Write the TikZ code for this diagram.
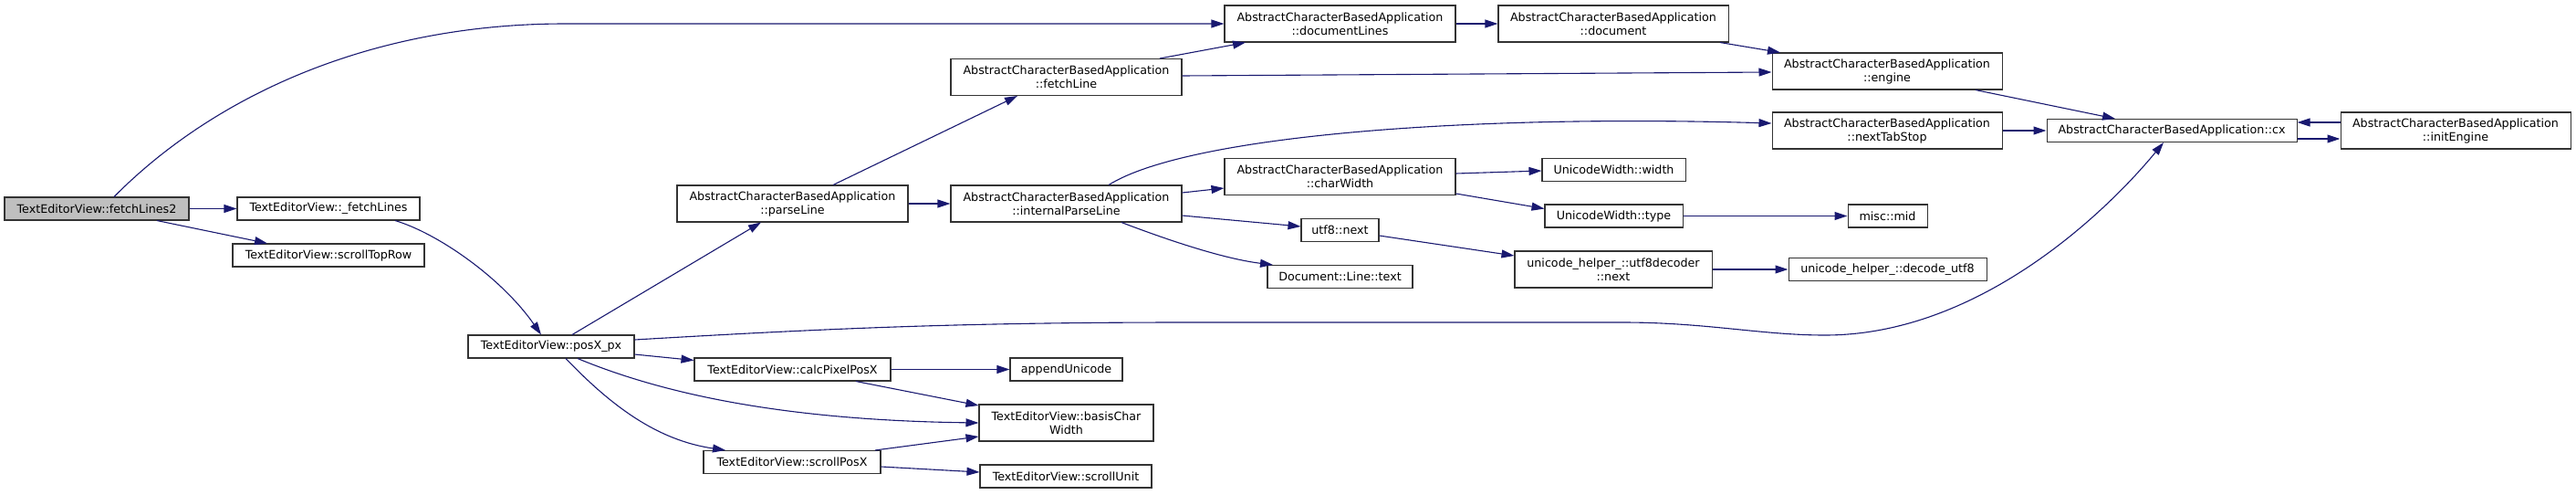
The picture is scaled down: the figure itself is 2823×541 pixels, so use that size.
\documentclass[tikz,border=0pt]{standalone}
\usepackage{fontspec}
\setmainfont{DejaVu Sans}
\usetikzlibrary{arrows.meta}
\definecolor{edgeblue}{HTML}{191970}
\definecolor{mainfill}{HTML}{BFBFBF}
\begin{document}
\begin{tikzpicture}[x=1pt,y=-1pt,
  box/.style={draw=black!80, line width=1.05pt, fill=white, inner sep=0pt,
    minimum height=25pt, font=\fontsize{12.7}{15}\selectfont, align=center},
  tall/.style={box, minimum height=40pt},
  edge/.style={draw=edgeblue, line width=1.1pt, -{Triangle[length=14pt,width=9pt]}}]
\useasboundingbox (0,0) rectangle (2823,541);
% column 1-3
\node[box, fill=mainfill, minimum width=202pt] (fl2) at (106,228.5) {TextEditorView::fetchLines2};
\node[box, minimum width=200pt] (ufl) at (360,228.5) {TextEditorView::\_fetchLines};
\node[box, minimum width=210pt] (str) at (360,279.5) {TextEditorView::scrollTopRow};
\node[box, minimum width=182pt] (px) at (604,379.5) {TextEditorView::posX\_px};
% column 4
\node[tall, minimum width=253pt] (pl) at (868.5,223) {AbstractCharacterBasedApplication\\::parseLine};
\node[box, minimum width=215pt] (cpp) at (868.5,404.5) {TextEditorView::calcPixelPosX};
\node[box, minimum width=194pt] (spx) at (868,506) {TextEditorView::scrollPosX};
% column 5
\node[tall, minimum width=253pt] (fl) at (1168.5,84.5) {AbstractCharacterBasedApplication\\::fetchLine};
\node[tall, minimum width=253pt] (ipl) at (1168.5,223) {AbstractCharacterBasedApplication\\::internalParseLine};
\node[box, minimum width=123pt] (au) at (1168.5,404.5) {appendUnicode};
\node[tall, minimum width=191pt] (bcw) at (1168.5,463) {TextEditorView::basisChar\\Width};
\node[box, minimum width=188pt] (su) at (1168,521.5) {TextEditorView::scrollUnit};
% column 6
\node[tall, minimum width=253pt] (dl) at (1468.5,26) {AbstractCharacterBasedApplication\\::documentLines};
\node[tall, minimum width=253pt] (cw) at (1468.5,193.5) {AbstractCharacterBasedApplication\\::charWidth};
\node[box, minimum width=85pt] (un) at (1468.5,252) {utf8::next};
\node[box, minimum width=159pt] (dlt) at (1468.5,303) {Document::Line::text};
% column 7
\node[tall, minimum width=252pt] (doc) at (1768,26) {AbstractCharacterBasedApplication\\::document};
\node[box, minimum width=157pt] (uww) at (1768.5,186) {UnicodeWidth::width};
\node[box, minimum width=151pt] (uwt) at (1768.5,236.5) {UnicodeWidth::type};
\node[tall, minimum width=216pt] (udn) at (1768,295) {unicode\_helper\_::utf8decoder\\::next};
% column 8
\node[tall, minimum width=252pt] (eng) at (2068,78) {AbstractCharacterBasedApplication\\::engine};
\node[tall, minimum width=252pt] (nts) at (2068,143) {AbstractCharacterBasedApplication\\::nextTabStop};
\node[box, minimum width=87pt] (mm) at (2068.5,236.5) {misc::mid};
\node[box, minimum width=217pt] (du) at (2068.5,295) {unicode\_helper\_::decode\_utf8};
% column 9-10
\node[box, minimum width=274pt] (cx) at (2380,143) {AbstractCharacterBasedApplication::cx};
\node[tall, minimum width=252pt] (ie) at (2691,143) {AbstractCharacterBasedApplication\\::initEngine};

% edges
\draw[edge] ([xshift=19pt]fl2.north) .. controls +(105,-106) and +(-220,0) .. ([xshift=-722pt]dl.west) -- (dl.west);
\draw[edge] (fl2.east) -- (ufl.west);
\draw[edge] ([xshift=66pt]fl2.south) -- ([xshift=-67pt]str.north);
\draw[edge] ([xshift=73pt]ufl.south) .. controls +(47,14) and +(-43,-62) .. ([xshift=-11pt]px.north);
\draw[edge] ([xshift=23pt]px.north) -- ([xshift=-34.5pt]pl.south);
\draw[edge] ([yshift=7.5pt]px.east) .. controls (900,360) and (1050,353) .. (1300,353) -- (1778,353)
  .. controls (1870,353) and (1930,367) .. (2000,367)
  .. controls (2170,367) and (2310,230) .. ([xshift=-9pt]cx.south);
\draw[edge] ([yshift=-8.5pt]px.east) -- ([yshift=10pt]cpp.west);
\draw[edge] ([xshift=29pt]px.south) .. controls +(87,36) and +(-223,-3) .. (bcw.west);
\draw[edge] ([xshift=16pt]px.south) .. controls +(50,52) and +(-75,-11) .. ([xshift=-73pt]spx.north);
\draw[edge] ([xshift=44.5pt]pl.north) -- ([xshift=-53.5pt]fl.south);
\draw[edge] (pl.east) -- (ipl.west);
\draw[edge] ([xshift=102.5pt]fl.north) -- ([xshift=-103.5pt]dl.south);
\draw[edge] ([yshift=1.5pt]fl.east) -- ([yshift=-1pt]eng.west);
\draw[edge] ([xshift=46.5pt]ipl.north) .. controls +(85,-53) and +(-342,-10) .. ([yshift=8pt]nts.west);
\draw[edge] ([yshift=12pt]ipl.east) -- ([yshift=-12.5pt]cw.west);
\draw[edge] ([yshift=-13pt]ipl.east) -- ([yshift=4pt]un.west);
\draw[edge] ([xshift=60.5pt]ipl.south) .. controls +(71,27) and +(-45,-5.5) .. ([xshift=-73.5pt]dlt.north);
\draw[edge] (cpp.east) -- (au.west);
\draw[edge] ([xshift=69.5pt]cpp.south) -- ([yshift=19pt]bcw.west);
\draw[edge] ([xshift=91pt]spx.north) -- ([yshift=-15pt]bcw.west);
\draw[edge] ([yshift=-5pt]spx.east) -- ([yshift=4.5pt]su.west);
\draw[edge] (dl.east) -- (doc.west);
\draw[edge] ([xshift=117pt]doc.south) -- ([xshift=-117pt]eng.north);
\draw[edge] ([yshift=3.5pt]cw.east) -- ([yshift=-1pt]uww.west);
\draw[edge] ([yshift=-18.5pt]cw.east) -- ([yshift=8pt]uwt.west);
\draw[edge] ([yshift=-6pt]un.east) -- ([yshift=15pt]udn.west);
\draw[edge] (uwt.east) -- (mm.west);
\draw[edge] (udn.east) -- (du.west);
\draw[edge] ([xshift=97pt]eng.south) -- ([xshift=-62pt]cx.north);
\draw[edge] (nts.east) -- (cx.west);
\draw[edge] ([yshift=-9pt]cx.east) -- ([yshift=-9pt]ie.west);
\draw[edge] ([yshift=9pt]ie.west) -- ([yshift=9pt]cx.east);
\end{tikzpicture}
\end{document}
